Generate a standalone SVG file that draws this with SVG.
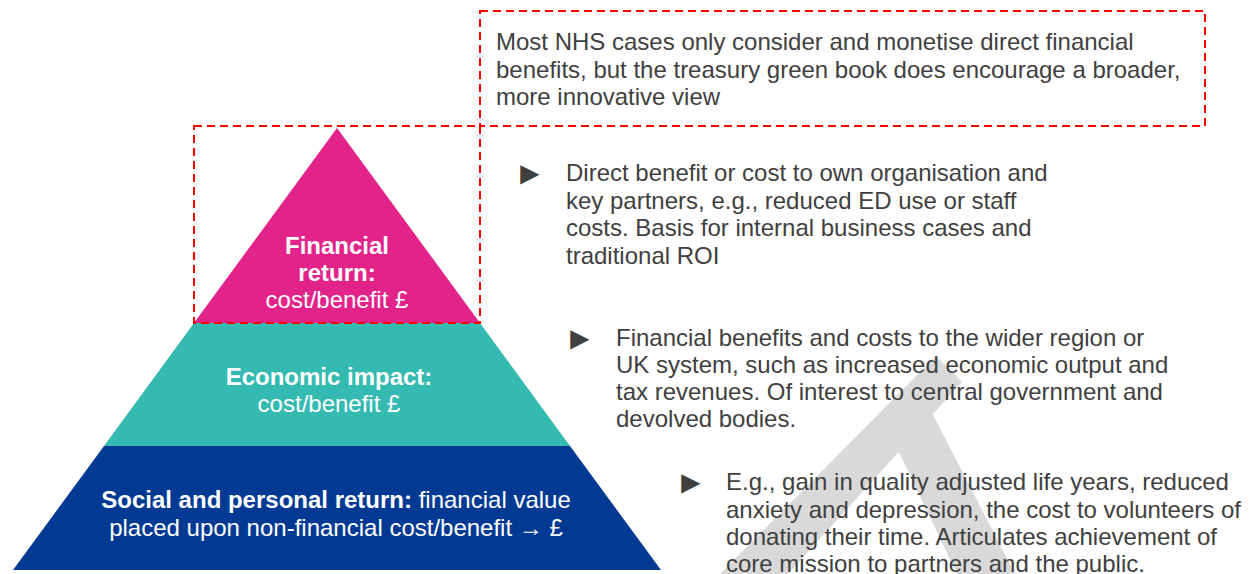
<svg xmlns="http://www.w3.org/2000/svg" width="1250" height="574" viewBox="0 0 1250 574">
<style>
.t{font-family:"Liberation Sans",Arial,sans-serif;font-size:24px;fill:#404040}
.bul{font-family:"Liberation Sans",Arial,sans-serif;font-size:32px;fill:#404040}
.w{font-family:"Liberation Sans",Arial,sans-serif;font-size:24px;fill:#ffffff;text-anchor:middle}
.b{font-weight:bold}
.dash{fill:none;stroke:#ff0000;stroke-width:2;stroke-dasharray:8 5}
.wm{fill:#d9d9d9}
</style>
<rect width="1250" height="574" fill="#ffffff"/>
<g id="watermark">
<polygon class="wm" points="936,356 962,382 788,574 720,574"/>
<polygon class="wm" points="898,450 932,413 1015,574 957,574"/>
</g>
<g id="layer-financial">
<polygon points="337,128 480,323 194,323" fill="#e2248a"/>
<text class="w b" x="337" y="254">Financial</text>
<text class="w b" x="337" y="281">return:</text>
<text class="w" x="337" y="308">cost/benefit £</text>
</g>
<g id="layer-economic">
<polygon points="194,323 480,323 570,446 104,446" fill="#35bab1"/>
<text class="w b" x="329" y="385">Economic impact:</text>
<text class="w" x="329" y="412">cost/benefit £</text>
</g>
<g id="layer-social">
<polygon points="104,446 570,446 661,570 13,570" fill="#023a93"/>
<text class="w" x="336" y="508"><tspan font-weight="bold">Social and personal return:</tspan> financial value</text>
<text class="w" x="336" y="536">placed upon non-financial cost/benefit → £</text>
</g>
<g id="note-box">
<rect class="dash" x="480" y="11" width="725" height="115"/>
<text class="t" x="496" y="50">Most NHS cases only consider and monetise direct financial</text>
<text class="t" x="496" y="78">benefits, but the treasury green book does encourage a broader,</text>
<text class="t" x="496" y="105">more innovative view</text>
</g>
<g id="highlight-box">
<rect class="dash" x="194" y="126" width="286" height="197"/>
</g>
<g id="bullet-financial">
<text class="bul" x="514" y="184">►</text>
<text class="t" x="566" y="181">Direct benefit or cost to own organisation and</text>
<text class="t" x="566" y="209">key partners, e.g., reduced ED use or staff</text>
<text class="t" x="566" y="236">costs. Basis for internal business cases and</text>
<text class="t" x="566" y="264">traditional ROI</text>
</g>
<g id="bullet-economic">
<text class="bul" x="564" y="349">►</text>
<text class="t" x="616" y="346">Financial benefits and costs to the wider region or</text>
<text class="t" x="616" y="373">UK system, such as increased economic output and</text>
<text class="t" x="616" y="400">tax revenues. Of interest to central government and</text>
<text class="t" x="616" y="427">devolved bodies.</text>
</g>
<g id="bullet-social">
<text class="bul" x="675" y="493">►</text>
<text class="t" x="726" y="490">E.g., gain in quality adjusted life years, reduced</text>
<text class="t" x="726" y="518">anxiety and depression, the cost to volunteers of</text>
<text class="t" x="726" y="545">donating their time. Articulates achievement of</text>
<text class="t" x="726" y="572">core mission to partners and the public.</text>
</g>
<g id="connectors"></g>
</svg>
